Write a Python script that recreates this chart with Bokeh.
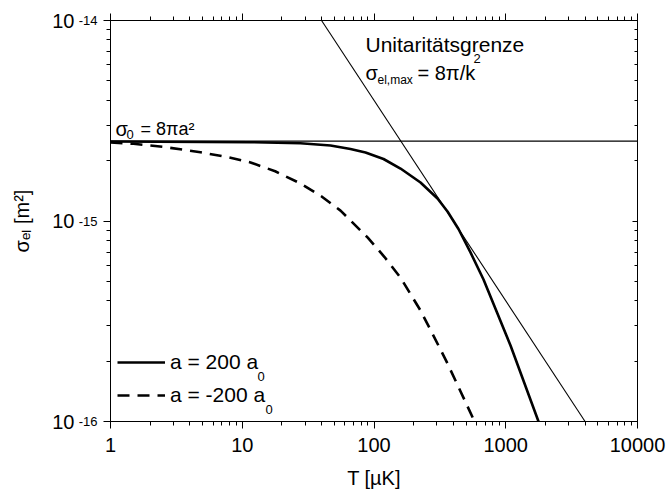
from bokeh.plotting import figure
from bokeh.models import (Label, Span, Legend, LegendItem, LogAxis, LogTicker,
                          NumeralTickFormatter, CustomJSTickFormatter, Range1d)
from bokeh.embed import file_html
from bokeh.resources import INLINE

# ---------------- data ----------------
x_tick_values = [1, 10, 100, 1000, 10000]
y_tick_exponents = [-16, -15, -14]

sigma0 = 2.5e-15                       # sigma_0 = 8 pi a^2

unit_T = [40, 4000]                     # unitarity limit 8 pi / k^2
unit_sigma = [1e-14, 1e-16]

pos_T = [1, 11.55, 27.68, 46.76, 66.3, 86.2, 118.1, 158.9, 225.4, 303.4, 361.4, 437.8,
         540, 678, 1087, 1773]
pos_sigma = [2.491e-15, 2.472e-15, 2.443e-15, 2.380e-15, 2.286e-15, 2.196e-15, 2.038e-15,
             1.827e-15, 1.556e-15, 1.295e-15, 1.115e-15, 9.12e-16, 6.97e-16, 5.11e-16,
             2.393e-16, 1.0e-16]

neg_T = [1, 1.496, 2.512, 4.819, 7.943, 11.56, 17.78, 27.67, 39.81, 55.72, 89.33, 120.2,
         158.9, 225.4, 281.8, 354.8, 446.7, 579.4]
neg_sigma = [2.466e-15, 2.427e-15, 2.344e-15, 2.203e-15, 2.075e-15, 1.959e-15, 1.770e-15,
             1.538e-15, 1.330e-15, 1.127e-15, 8.28e-16, 6.61e-16, 5.22e-16, 3.58e-16,
             2.69e-16, 1.995e-16, 1.445e-16, 1.0e-16]

legend_labels = ["a = 200 a", "a = -200 a"]

# ---------------- layout ----------------
FONT = "Liberation Sans"
FL, FT = 110, 20          # frame left / top in canvas px
FW, FH = 527, 401
FB = FT + FH

p = figure(width=668, height=495, x_axis_type="log", y_axis_type="log",
           x_range=Range1d(1, 10000), y_range=Range1d(1e-16, 1e-14),
           output_backend="svg", toolbar_location=None,
           min_border_left=FL, min_border_right=668 - FL - FW,
           min_border_top=FT, min_border_bottom=495 - FB)
p.grid.visible = False
p.outline_line_color = "black"
p.outline_line_width = 1
p.background_fill_color = "white"
p.border_fill_color = "white"

blank = CustomJSTickFormatter(code="return ''")


def style_axis(ax):
    ax.axis_line_color = "black"
    ax.axis_line_width = 1
    ax.major_tick_line_color = "black"
    ax.minor_tick_line_color = "black"
    ax.major_tick_in = 0
    ax.major_tick_out = 7
    ax.minor_tick_in = 0
    ax.minor_tick_out = 4
    ax.ticker = LogTicker(num_minor_ticks=10)
    ax.major_label_text_font = FONT
    ax.major_label_text_color = "black"
    ax.axis_label_text_font = FONT
    ax.axis_label_text_font_style = "normal"
    ax.axis_label_text_color = "black"
    ax.axis_label_text_font_size = "20px"


# bottom axis
xa = p.xaxis[0]
style_axis(xa)
xa.formatter = NumeralTickFormatter(format="0")
xa.major_label_text_font_size = "20px"
xa.major_label_standoff = 9
xa.axis_label = "T [µK]"
xa.axis_label_standoff = 12

# left axis (inner): ticks + exponent superscripts
ya = p.yaxis[0]
style_axis(ya)
ya.formatter = CustomJSTickFormatter(code="return String(Math.round(Math.log10(tick)))")
ya.major_label_text_font_size = "13px"
ya.major_label_text_baseline = "bottom"
ya.major_label_standoff = 6

# left axis (outer): mantissa "10" + axis title
ya2 = LogAxis(ticker=LogTicker(num_minor_ticks=10))
ya2.axis_line_color = None
ya2.major_tick_line_color = None
ya2.minor_tick_line_color = None
ya2.major_tick_in = 0
ya2.major_tick_out = 0
ya2.minor_tick_in = 0
ya2.minor_tick_out = 0
ya2.formatter = CustomJSTickFormatter(code="return '10'")
ya2.major_label_text_font = FONT
ya2.major_label_text_font_size = "20px"
ya2.major_label_text_color = "black"
ya2.major_label_standoff = 1
ya2.axis_label = "σₑₗ [m²]"
ya2.axis_label_text_font = FONT
ya2.axis_label_text_font_style = "normal"
ya2.axis_label_text_font_size = "20px"
ya2.axis_label_text_color = "black"
ya2.axis_label_standoff = 16
p.add_layout(ya2, "left")

# top axis: ticks only (outward)
top = LogAxis()
style_axis(top)
top.formatter = blank
top.major_label_text_font_size = "2px"
top.major_label_standoff = 0
p.add_layout(top, "above")

# right axis: short inward ticks
right = LogAxis()
style_axis(right)
right.major_tick_out = 0
right.major_tick_in = 5
right.minor_tick_out = 0
right.minor_tick_in = 3
right.formatter = blank
right.major_label_text_font_size = "2px"
right.major_label_standoff = 0
p.add_layout(right, "right")

# ---------------- marks ----------------
p.add_layout(Span(location=sigma0, dimension="width", line_color="black", line_width=1.2))
p.line(unit_T, unit_sigma, line_color="black", line_width=1.1)
r_pos = p.line(pos_T, pos_sigma, line_color="black", line_width=2.6)
r_neg = p.line(neg_T, neg_sigma, line_color="black", line_width=2.6, line_dash="12 8")

legend = Legend(items=[LegendItem(label=legend_labels[0], renderers=[r_pos]),
                       LegendItem(label=legend_labels[1], renderers=[r_neg])],
                location=(7, 14), padding=0, margin=0, spacing=9,
                glyph_width=48, glyph_height=24, label_height=24, label_standoff=5,
                border_line_color=None, background_fill_alpha=0,
                label_text_font=FONT, label_text_font_size="21px", label_text_color="black")
p.add_layout(legend, "center")


def lab(sx, sy, text, size, align="left"):
    p.add_layout(Label(x=sx - FL, y=FB - sy, x_units="screen", y_units="screen",
                       text=text, text_font=FONT, text_font_size=f"{size}px",
                       text_color="black", text_align=align,
                       text_baseline="alphabetic"))


# legend subscripts
lab(257, 376, "0", 13)
lab(265, 409, "0", 13)

# sigma_0 annotation
lab(115, 128, "σ", 20)
lab(126, 134, "0", 13)
lab(140, 128, "= 8πa²", 18)

# unitarity annotation
lab(365, 44, "Unitaritätsgrenze", 21)
lab(365, 72, "σ", 20)
lab(377, 79, "el,max", 12)
lab(417, 72, "= 8π/k", 20)
lab(473, 58, "2", 13)

open("out.html", "w").write(file_html(p, INLINE))
